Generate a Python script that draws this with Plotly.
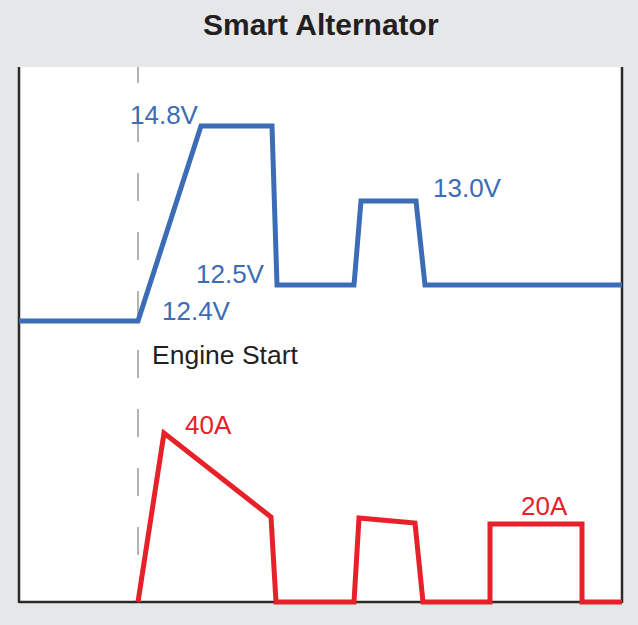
import plotly.graph_objects as go

# 시간축(임의 단위)과 개략적인 레벨 값
volt_t = [0, 119, 182, 253, 258, 335, 342, 397, 406, 603]
volt_level = [281, 281, 476, 476, 317, 317, 401, 401, 317, 317]

amp_t = [119, 145, 252, 257, 335, 340, 396, 404, 471, 471, 563, 563, 603]
amp_level = [0, 169, 85, 0, 0, 84, 79, 0, 0, 78, 78, 0, 0]

engine_start_t = 119

# 라벨: 텍스트, 중심 위치
label_text = ["14.8V", "12.5V", "12.4V", "13.0V", "40A", "20A"]
label_t = [145.5, 211, 177.5, 448.5, 189, 525]
label_y = [487, 328.5, 291, 414, 177, 96]
label_kind = ["v", "v", "v", "v", "a", "a"]

BLUE = "#3b6cb5"
RED = "#e62129"
INK = "#231f20"
BG = "#e6e7e8"
FONT = "Liberation Sans, Arial, sans-serif"

fig = go.Figure()
fig.add_trace(go.Scatter(x=volt_t, y=volt_level, mode="lines",
                         line=dict(color=BLUE, width=5), hoverinfo="skip"))
fig.add_trace(go.Scatter(x=amp_t, y=amp_level, mode="lines",
                         line=dict(color=RED, width=5), hoverinfo="skip"))

x_max = 603
y_max = 535
shapes = [
    # 흰 배경
    dict(type="rect", xref="x", yref="y", x0=0, x1=x_max, y0=0, y1=y_max,
         fillcolor="white", line=dict(width=0), layer="below"),
    # 엔진 시동 점선
    dict(type="line", xref="x", yref="y", x0=engine_start_t, x1=engine_start_t, y0=547, y1=45,
         line=dict(color="#9a9a9a", width=1.5, dash="28px,31px"), layer="below"),
    # 테두리 (왼쪽, 오른쪽, 아래)
    dict(type="line", xref="x", yref="y", x0=0, x1=0, y0=-1, y1=y_max,
         line=dict(color="#2a2a2a", width=2.5), layer="below"),
    dict(type="line", xref="x", yref="y", x0=x_max, x1=x_max, y0=-1, y1=y_max,
         line=dict(color="#2a2a2a", width=2.5), layer="below"),
    dict(type="line", xref="x", yref="y", x0=0, x1=x_max, y0=0, y1=0,
         line=dict(color="#2a2a2a", width=2.5), layer="below"),
]

annotations = []
for txt, t, y, k in zip(label_text, label_t, label_y, label_kind):
    annotations.append(dict(x=t, y=y, xref="x", yref="y", text=txt, showarrow=False,
                            xanchor="center", yanchor="middle",
                            font=dict(family=FONT, size=26, color=BLUE if k == "v" else RED)))
annotations.append(dict(x=131, y=247, xref="x", yref="y", text="Engine Start", showarrow=False,
                        xanchor="left", yanchor="middle",
                        font=dict(family=FONT, size=26.5, color=INK)))
# 제목: 플롯 영역 기준 paper 좌표 (플롯 영역 x 17~625px, y 67~606px)
annotations.append(dict(x=(320.5 - 17) / 608, y=(606 - 24.5) / 539, xref="paper", yref="paper",
                        text="<b>Smart Alternator</b>", showarrow=False,
                        xanchor="center", yanchor="middle",
                        font=dict(family=FONT, size=30, color=INK)))

fig.update_layout(
    width=638, height=625,
    margin=dict(l=17, r=13, t=67, b=19, pad=0),
    paper_bgcolor=BG, plot_bgcolor=BG,
    showlegend=False,
    shapes=shapes,
    annotations=annotations,
)
fig.update_xaxes(range=[-2, 606], visible=False, fixedrange=True)
fig.update_yaxes(range=[-4, y_max], visible=False, fixedrange=True)

fig.write_html("out.html", config={"displayModeBar": False},
               post_script="document.body.style.margin='0';document.body.style.background='#e6e7e8';")
